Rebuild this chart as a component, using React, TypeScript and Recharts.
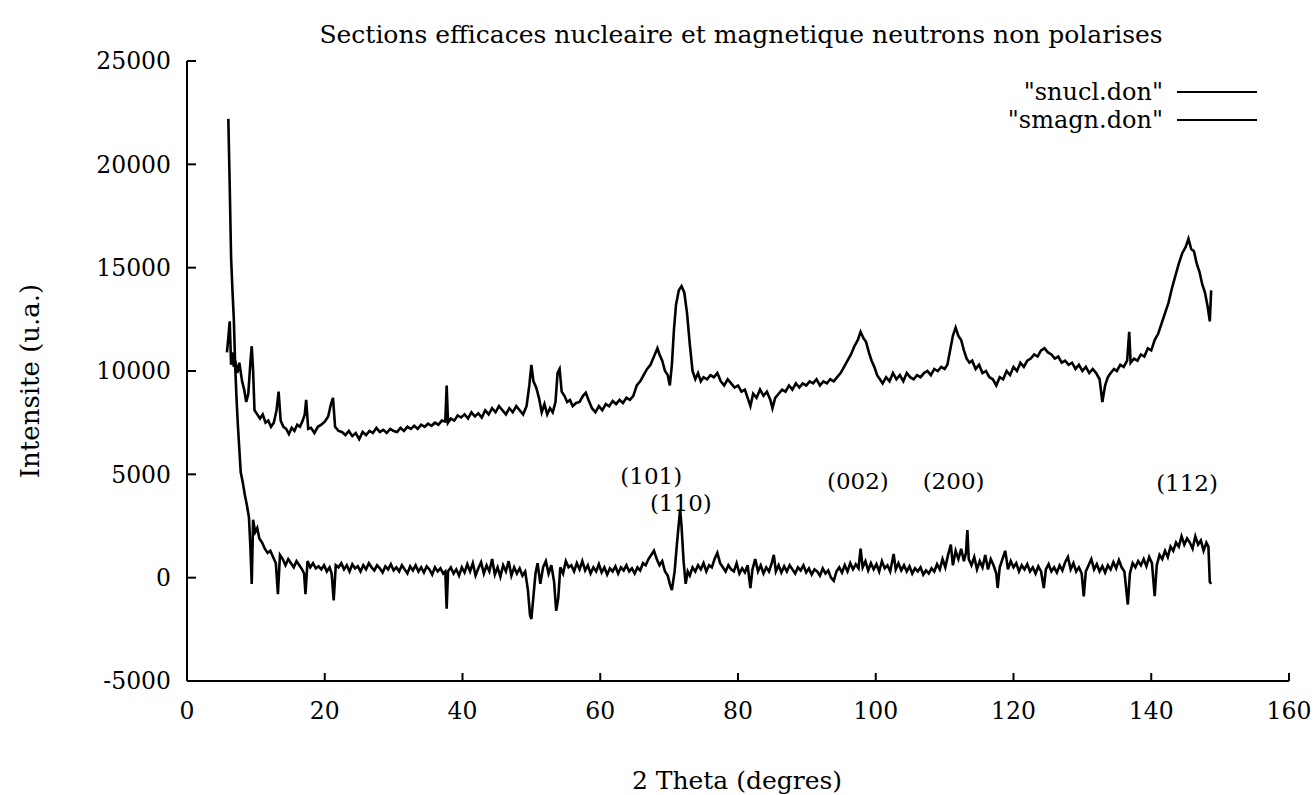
import React from 'react';
import { LineChart, Line, XAxis, YAxis, ReferenceDot } from 'recharts';

// 2 Theta (degres) and intensities
const nuclAngles = [
  5.8, 6.0, 6.2, 6.4, 6.6, 6.8, 7.0, 7.3, 7.6, 8.0, 8.3, 8.6, 8.9, 9.2, 9.4, 9.6, 9.8, 10.2, 10.6, 11.0,
  11.4, 11.8, 12.2, 12.6, 13.0, 13.3, 13.6, 14.0, 14.4, 14.8, 15.2, 15.6, 16.0, 16.4, 16.8, 17.1, 17.3, 17.6, 18.0, 18.5,
  19.0, 19.5, 20.0, 20.5, 20.9, 21.2, 21.5, 22.0, 22.5, 23.0, 23.5, 24.0, 24.5, 25.0, 25.5, 26.0, 26.5, 27.0, 27.5, 28.0,
  28.5, 29.0, 29.5, 30.0, 30.5, 31.0, 31.5, 32.0, 32.5, 33.0, 33.5, 34.0, 34.5, 35.0, 35.5, 36.0, 36.5, 37.0, 37.5, 37.7,
  37.9, 38.3, 38.8, 39.3, 39.8, 40.3, 40.8, 41.3, 41.8, 42.3, 42.8, 43.3, 43.8, 44.3, 44.8, 45.3, 45.8, 46.3, 46.8, 47.3,
  47.8, 48.3, 48.8, 49.3, 49.7, 50.0, 50.3, 50.7, 51.1, 51.5, 51.9, 52.3, 52.7, 53.1, 53.5, 53.8, 54.1, 54.4, 54.8, 55.2,
  55.6, 56.0, 56.5, 57.0, 57.5, 57.9, 58.3, 58.8, 59.3, 59.8, 60.3, 60.8, 61.3, 61.8, 62.3, 62.8, 63.3, 63.8, 64.3, 64.8,
  65.3, 65.8, 66.3, 66.8, 67.3, 67.8, 68.3, 68.6, 69.0, 69.4, 69.8, 70.1, 70.4, 70.7, 71.0, 71.4, 71.8, 72.2, 72.6, 73.0,
  73.4, 73.8, 74.2, 74.6, 75.0, 75.5, 76.0, 76.5, 77.0, 77.5, 78.0, 78.5, 79.0, 79.5, 80.0, 80.5, 81.0, 81.5, 81.8, 82.2,
  82.7, 83.2, 83.7, 84.2, 84.7, 85.0, 85.4, 85.9, 86.4, 86.9, 87.4, 87.9, 88.4, 88.9, 89.4, 89.9, 90.4, 90.9, 91.4, 91.9,
  92.4, 92.9, 93.4, 93.9, 94.4, 94.9, 95.4, 95.9, 96.4, 96.9, 97.4, 97.8, 98.2, 98.6, 99.0, 99.4, 99.8, 100.2, 100.6, 101.0,
  101.5, 102.0, 102.5, 103.0, 103.5, 104.0, 104.5, 105.0, 105.5, 106.0, 106.5, 107.0, 107.5, 108.0, 108.5, 109.0, 109.5, 110.0, 110.4, 110.8,
  111.2, 111.6, 112.0, 112.4, 112.8, 113.2, 113.6, 114.0, 114.5, 115.0, 115.5, 116.0, 116.5, 117.0, 117.5, 118.0, 118.5, 119.0, 119.5, 120.0,
  120.5, 121.0, 121.5, 122.0, 122.5, 123.0, 123.5, 124.0, 124.5, 125.0, 125.5, 126.0, 126.5, 127.0, 127.5, 128.0, 128.5, 129.0, 129.5, 130.0,
  130.5, 131.0, 131.5, 132.0, 132.5, 132.9, 133.3, 133.7, 134.1, 134.6, 135.0, 135.5, 136.0, 136.5, 136.8, 137.0, 137.5, 138.0, 138.5, 139.0,
  139.5, 140.0, 140.5, 141.0, 141.5, 142.0, 142.5, 143.0, 143.5, 144.0, 144.5, 145.0, 145.4, 145.8, 146.2, 146.6, 147.0, 147.4, 147.8, 148.2,
  148.5, 148.7,
];
const nuclValues = [
  10900, 11600, 12400, 10300, 10900, 10200, 10500, 9900, 10400, 9500, 9100, 8500, 8900, 10400, 11200, 10000, 8100, 7900, 7700, 7900,
  7500, 7600, 7300, 7500, 8100, 9000, 7600, 7300, 7200, 6950, 7250, 7100, 7400, 7300, 7600, 7900, 8600, 7200, 7250, 7000,
  7300, 7400, 7550, 7800, 8400, 8700, 7300, 7100, 7050, 6900, 7100, 6850, 7000, 6700, 7050, 6900, 7100, 7000, 7250, 7050,
  7150, 7000, 7200, 7100, 7050, 7250, 7100, 7300, 7200, 7350, 7200, 7400, 7300, 7450, 7350, 7500, 7400, 7600, 7550, 9300,
  7500, 7700, 7600, 7850, 7750, 7900, 7700, 8000, 7800, 7950, 7750, 8100, 7900, 8200, 8000, 8300, 8100, 7900, 8200, 8000,
  8300, 8100, 7900, 8300, 9300, 10300, 9500, 9200, 8700, 8000, 8400, 7900, 8200, 8000, 8500, 9900, 10100, 9000, 8800, 8500,
  8600, 8300, 8450, 8500, 8800, 8950, 8600, 8200, 8000, 8300, 8100, 8400, 8300, 8550, 8400, 8600, 8450, 8700, 8600, 8800,
  9300, 9500, 9800, 10100, 10300, 10700, 11100, 10800, 10500, 10000, 9800, 9300, 10300, 12000, 13200, 13900, 14100, 13800, 12800, 11300,
  10000, 9600, 9900, 9500, 9700, 9600, 9800, 9700, 9900, 9500, 9300, 9600, 9400, 9200, 9300, 9000, 9100, 8600, 8300, 8900,
  8700, 9100, 8800, 9000, 8600, 8200, 8700, 8900, 9100, 9000, 9300, 9100, 9400, 9200, 9400, 9300, 9500, 9400, 9600, 9300,
  9500, 9400, 9600, 9500, 9700, 9900, 10200, 10500, 10800, 11200, 11500, 11900, 11600, 11400, 10900, 10500, 10200, 9800, 9600, 9400,
  9700, 9500, 9900, 9600, 9800, 9500, 9900, 9700, 9600, 9800, 9700, 9900, 10000, 9800, 10100, 10000, 10200, 10100, 10300, 11000,
  11700, 12100, 11700, 11500, 11000, 10600, 10400, 10500, 10100, 10300, 9900, 10000, 9700, 9600, 9300, 9700, 9600, 10000, 9800, 10200,
  10000, 10400, 10200, 10500, 10600, 10800, 10700, 11000, 11100, 10900, 10800, 10600, 10700, 10400, 10500, 10300, 10400, 10100, 10300, 10000,
  10200, 9900, 10100, 9900, 9600, 8500, 9300, 9700, 9900, 10100, 10000, 10300, 10200, 10500, 11900, 10400, 10600, 10500, 10800, 10700,
  11100, 11000, 11500, 11800, 12300, 12800, 13300, 14000, 14600, 15200, 15700, 16000, 16400, 15900, 15800, 15200, 14800, 14200, 13800, 13100,
  12400, 13900,
];

const magnAngles = [
  6.0, 6.2, 6.4, 6.6, 6.8, 7.0, 7.2, 7.4, 7.6, 7.8, 8.1, 8.4, 8.7, 9.0, 9.2, 9.4, 9.6, 9.9, 10.2, 10.5,
  10.9, 11.3, 11.7, 12.1, 12.5, 12.9, 13.2, 13.5, 13.9, 14.3, 14.7, 15.1, 15.5, 15.9, 16.3, 16.7, 17.0, 17.2, 17.5, 17.9,
  18.3, 18.7, 19.1, 19.5, 19.9, 20.3, 20.7, 21.0, 21.3, 21.6, 22.0, 22.4, 22.8, 23.2, 23.6, 24.0, 24.4, 24.8, 25.2, 25.6,
  26.0, 26.4, 26.8, 27.2, 27.6, 28.0, 28.4, 28.8, 29.2, 29.6, 30.0, 30.4, 30.8, 31.2, 31.6, 32.0, 32.4, 32.8, 33.2, 33.6,
  34.0, 34.4, 34.8, 35.2, 35.6, 36.0, 36.4, 36.8, 37.2, 37.5, 37.7, 37.9, 38.3, 38.7, 39.1, 39.5, 39.9, 40.3, 40.7, 41.1,
  41.5, 41.9, 42.3, 42.7, 43.1, 43.5, 43.9, 44.3, 44.7, 45.1, 45.5, 45.9, 46.3, 46.7, 47.1, 47.5, 47.9, 48.3, 48.7, 49.1,
  49.5, 49.8, 50.0, 50.3, 50.6, 50.9, 51.3, 51.7, 52.1, 52.5, 52.9, 53.3, 53.6, 53.9, 54.2, 54.6, 55.0, 55.4, 55.8, 56.2,
  56.6, 57.0, 57.4, 57.8, 58.2, 58.6, 59.0, 59.4, 59.8, 60.2, 60.6, 61.0, 61.4, 61.8, 62.2, 62.6, 63.0, 63.4, 63.8, 64.2,
  64.6, 65.0, 65.4, 65.8, 66.2, 66.6, 67.0, 67.4, 67.8, 68.2, 68.6, 69.0, 69.4, 69.8, 70.1, 70.4, 70.8, 71.1, 71.4, 71.6,
  71.8, 72.1, 72.4, 72.7, 73.0, 73.4, 73.8, 74.2, 74.6, 75.0, 75.4, 75.8, 76.2, 76.6, 77.0, 77.4, 77.8, 78.2, 78.6, 79.0,
  79.4, 79.8, 80.2, 80.6, 81.0, 81.4, 81.8, 82.1, 82.5, 82.9, 83.3, 83.7, 84.1, 84.5, 84.9, 85.2, 85.5, 85.9, 86.3, 86.7,
  87.1, 87.5, 87.9, 88.3, 88.7, 89.1, 89.5, 89.9, 90.3, 90.7, 91.1, 91.5, 91.9, 92.3, 92.7, 93.1, 93.5, 93.9, 94.3, 94.7,
  95.1, 95.5, 95.9, 96.3, 96.7, 97.1, 97.5, 97.8, 98.1, 98.5, 98.9, 99.3, 99.7, 100.1, 100.5, 100.9, 101.3, 101.7, 102.1, 102.6,
  102.9, 103.3, 103.7, 104.1, 104.5, 104.9, 105.3, 105.7, 106.1, 106.5, 106.9, 107.3, 107.7, 108.1, 108.5, 108.9, 109.3, 109.7, 110.1, 110.5,
  110.9, 111.2, 111.6, 112.0, 112.4, 112.8, 113.1, 113.3, 113.5, 113.9, 114.3, 114.7, 115.1, 115.5, 115.9, 116.3, 116.7, 117.1, 117.5, 117.7,
  118.0, 118.4, 118.8, 119.2, 119.6, 120.0, 120.4, 120.8, 121.2, 121.6, 122.0, 122.4, 122.8, 123.2, 123.6, 124.0, 124.4, 124.7, 125.1, 125.5,
  125.9, 126.3, 126.7, 127.1, 127.5, 127.9, 128.3, 128.7, 129.1, 129.5, 129.9, 130.2, 130.5, 130.9, 131.3, 131.7, 132.1, 132.5, 132.9, 133.3,
  133.7, 134.1, 134.5, 134.9, 135.3, 135.7, 136.1, 136.6, 136.9, 137.3, 137.7, 138.1, 138.5, 138.9, 139.3, 139.7, 140.1, 140.5, 140.8, 141.2,
  141.6, 142.0, 142.4, 142.8, 143.2, 143.6, 144.0, 144.4, 144.8, 145.2, 145.6, 146.0, 146.4, 146.8, 147.2, 147.6, 148.0, 148.3, 148.5, 148.7,
];
const magnValues = [
  22200, 19000, 15500, 13900, 12500, 10200, 8600, 7300, 6200, 5100, 4600, 4000, 3500, 2900, 1500, -300, 2800, 2200, 2400, 1900,
  1700, 1400, 1200, 1300, 1000, 700, -800, 1100, 900, 600, 900, 700, 500, 800, 600, 400, 200, -800, 800, 500,
  700, 450, 550, 400, 600, 300, 500, 200, -1100, 600, 500, 700, 400, 600, 300, 650, 450, 550, 300, 600,
  400, 700, 500, 350, 600, 450, 250, 550, 400, 650, 350, 500, 300, 600, 400, 200, 550, 350, 600, 300,
  500, 250, 550, 400, 150, 500, 300, 450, 200, 300, -1500, 300, 500, 200, 400, 100, 500, 250, 650, 300,
  700, 100, 450, 750, 200, 600, 300, 900, 150, 500, 50, 600, 300, 800, 100, 500, 200, 450, 100, 300,
  -600, -1800, -2000, -900, 200, 700, -300, 500, 800, 200, 600, -200, -1600, -1000, 500, 200, 800, 500, 600, 300,
  700, 400, 800, 350, 600, 200, 500, 300, 650, 250, 500, 150, 450, 300, 550, 200, 500, 350, 600, 300,
  450, 200, 500, 350, 700, 600, 900, 1100, 1300, 900, 600, 800, 300, 100, -300, -600, 300, 1500, 2600, 3300,
  2500, 800, -300, 300, 100, 500, 300, 600, 400, 700, 300, 600, 500, 900, 1200, 700, 500, 300, 600, 400,
  300, 700, 200, 450, 250, 600, -500, 400, 900, 300, 600, 200, 500, 300, 700, 1100, 300, 600, 250, 550,
  300, 600, 400, 200, 500, 350, 600, 250, 450, 150, 400, 300, 100, 450, 200, 350, 0, -150, 300, 500,
  250, 600, 300, 700, 400, 650, 450, 1400, 500, 800, 350, 700, 400, 650, 300, 800, 450, 600, 300, 1150,
  400, 700, 350, 600, 300, 550, 200, 450, 300, 500, 150, 350, 200, 450, 300, 650, 400, 900, 500, 1100,
  1600, 600, 1300, 900, 1400, 800, 1200, 2300, 900, 600, 1000, 400, 800, 500, 1100, 400, 900, 600, 200, -500,
  500, 900, 1300, 400, 800, 500, 700, 300, 600, 400, 650, 300, 500, 200, 550, 300, -500, 400, 650, 300,
  500, 250, 600, 350, 750, 1000, 400, 700, 300, 500, 200, -900, 300, 600, 900, 400, 650, 300, 550, 250,
  600, 400, 750, 450, 850, 500, 300, -1300, 200, 700, 500, 800, 600, 900, 550, 1000, 700, -900, 600, 1100,
  900, 1300, 1000, 1500, 1300, 1700, 1500, 2000, 1600, 1900, 1700, 1400, 2000, 1600, 1800, 1300, 1700, 1500, -200, -300,
];

const xTicks = [0, 20, 40, 60, 80, 100, 120, 140, 160];
const yTicks = [-5000, 0, 5000, 10000, 15000, 20000, 25000];

const peakNames = ['(101)', '(110)', '(002)', '(200)', '(112)'];
const peakAngles = [67.4, 71.7, 97.4, 111.3, 145.2];
const peakLevels = [4950, 3620, 4690, 4690, 4590];

const seriesNames = ['"snucl.don"', '"smagn.don"'];

const nuclData = nuclAngles.map((a, i) => ({ a, v: nuclValues[i] }));
const magnData = magnAngles.map((a, i) => ({ a, v: magnValues[i] }));

const FONT = '"DejaVu Serif", serif';
const TICK_FS = 23.5;
const LABEL_FS = 25;

const EmptyTick = () => <g />;

export default function App() {
  return (
    <div style={{ position: 'absolute', left: 0, top: 0, width: 1315, height: 795, overflow: 'hidden', fontFamily: FONT, color: '#000', background: '#fff' }}>
      <LineChart
        width={1315}
        height={795}
        margin={{ top: 61, right: 26, bottom: 74, left: 87 }}
      >
        <XAxis
          xAxisId="bottom"
          type="number"
          dataKey="a"
          domain={[0, 160]}
          ticks={xTicks}
          allowDataOverflow
          height={40}
          tickSize={-8}
          tickMargin={29}
          stroke="#000"
          axisLine={{ stroke: '#000', strokeWidth: 2 }}
          tickLine={{ stroke: '#000', strokeWidth: 2 }}
          tick={{ fill: '#000', fontSize: TICK_FS, fontFamily: FONT }}
        />
        <XAxis
          xAxisId="top"
          orientation="top"
          type="number"
          dataKey="a"
          domain={[0, 160]}
          ticks={xTicks}
          allowDataOverflow
          height={0}
          tickSize={-7}
          stroke="#000"
          axisLine={{ stroke: '#000', strokeWidth: 2 }}
          tickLine={{ stroke: '#000', strokeWidth: 2 }}
          tick={EmptyTick}
        />
        <YAxis
          yAxisId="left"
          type="number"
          domain={[-5000, 25000]}
          ticks={yTicks}
          allowDataOverflow
          width={100}
          tickSize={-9}
          tickMargin={25}
          stroke="#000"
          axisLine={{ stroke: '#000', strokeWidth: 2 }}
          tickLine={{ stroke: '#000', strokeWidth: 2 }}
          tick={{ fill: '#000', fontSize: TICK_FS, fontFamily: FONT }}
        />
        <YAxis
          yAxisId="right"
          orientation="right"
          type="number"
          domain={[-5000, 25000]}
          ticks={yTicks}
          allowDataOverflow
          width={0}
          tickSize={-9}
          stroke="#000"
          axisLine={{ stroke: '#000', strokeWidth: 2 }}
          tickLine={{ stroke: '#000', strokeWidth: 2 }}
          tick={EmptyTick}
        />
        <Line
          xAxisId="bottom"
          yAxisId="left"
          data={nuclData}
          dataKey="v"
          name={seriesNames[0]}
          type="linear"
          stroke="#000"
          strokeWidth={2.6}
          dot={false}
          isAnimationActive={false}
        />
        <Line
          xAxisId="bottom"
          yAxisId="left"
          data={magnData}
          dataKey="v"
          name={seriesNames[1]}
          type="linear"
          stroke="#000"
          strokeWidth={2.6}
          dot={false}
          isAnimationActive={false}
        />
        {peakNames.map((n, i) => (
          <ReferenceDot
            key={n}
            xAxisId="bottom"
            yAxisId="left"
            x={peakAngles[i]}
            y={peakLevels[i]}
            r={1}
            fill="none"
            stroke="none"
            label={{ value: n, position: 'center', fill: '#000', fontSize: 23, fontFamily: FONT }}
          />
        ))}
      </LineChart>

      <div style={{ position: 'absolute', left: 0, width: 1482, top: 20, textAlign: 'center', fontSize: LABEL_FS, lineHeight: '30px', whiteSpace: 'nowrap' }}>
        Sections efficaces nucleaire et magnetique neutrons non polarises
      </div>

      {seriesNames.map((n, i) => (
        <React.Fragment key={n}>
          <div style={{ position: 'absolute', left: 863, width: 300, top: 78 + i * 28, textAlign: 'right', fontSize: 24, lineHeight: '28px', whiteSpace: 'nowrap' }}>
            {n}
          </div>
          <div style={{ position: 'absolute', left: 1177, width: 80, top: 91 + i * 28, height: 2, background: '#000' }} />
        </React.Fragment>
      ))}

      <div style={{ position: 'absolute', left: 0, width: 1474, top: 766, textAlign: 'center', fontSize: LABEL_FS, lineHeight: '30px', whiteSpace: 'nowrap' }}>
        2 Theta (degres)
      </div>

      <div style={{ position: 'absolute', left: 30, top: 381, width: 0, height: 0 }}>
        <div style={{ position: 'absolute', left: 0, top: 0, transform: 'translate(-50%, -50%) rotate(-90deg)', fontSize: 26, lineHeight: '30px', whiteSpace: 'nowrap' }}>
          Intensite (u.a.)
        </div>
      </div>
    </div>
  );
}
